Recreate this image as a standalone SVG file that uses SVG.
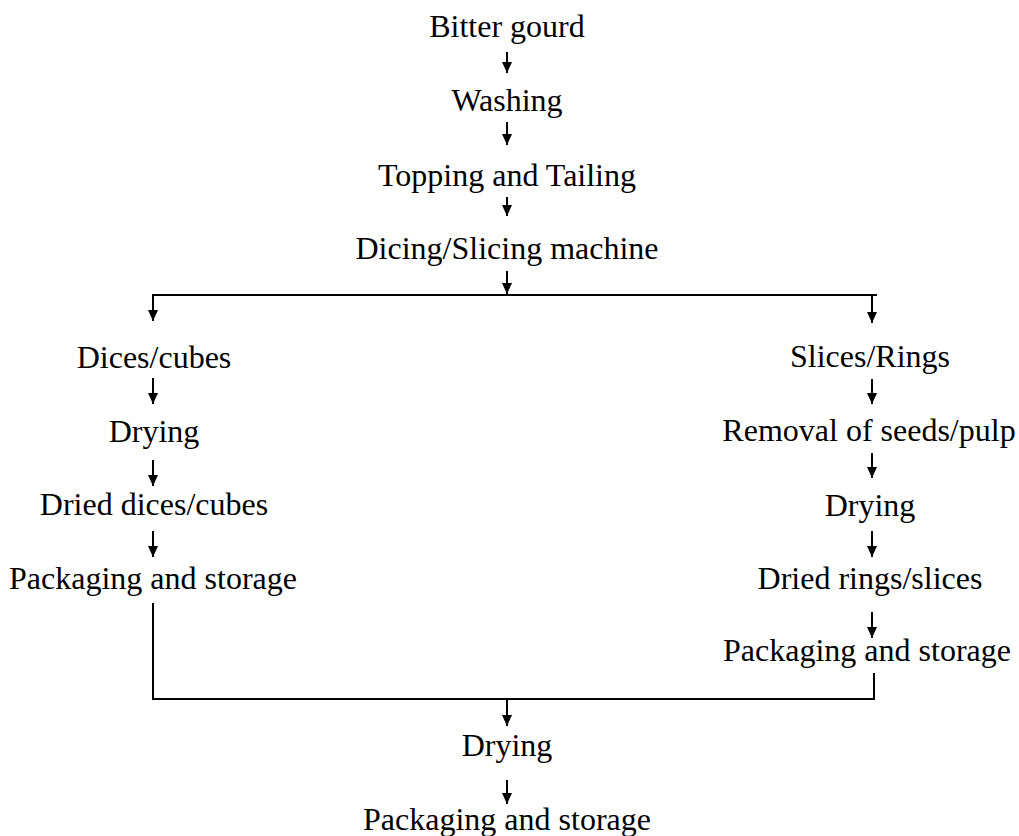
<svg xmlns="http://www.w3.org/2000/svg" width="1019" height="836" viewBox="0 0 1019 836">
<style>
text{font-family:"Liberation Serif","Times New Roman",serif;font-size:32px;fill:#000;text-anchor:middle}
.c{stroke:#000;stroke-width:2;fill:none}
</style>
<defs>
<marker id="a" markerUnits="userSpaceOnUse" markerWidth="11" markerHeight="11" viewBox="0 0 11 11" refX="11" refY="5.5" orient="auto">
<path d="M0,0.5 L11,5.5 L0,10.5 Z" fill="#000"/>
</marker>
</defs>
<rect width="1019" height="836" fill="#fff"/>
<g id="n1"><text x="507" y="37">Bitter gourd</text></g>
<g id="n2"><text x="507" y="111">Washing</text></g>
<g id="n3"><text x="507" y="186">Topping and Tailing</text></g>
<g id="n4"><text x="507" y="259">Dicing/Slicing machine</text></g>
<g id="n5"><text x="154" y="368">Dices/cubes</text></g>
<g id="n6"><text x="154" y="442">Drying</text></g>
<g id="n7"><text x="154" y="515">Dried dices/cubes</text></g>
<g id="n8"><text x="153" y="589">Packaging and storage</text></g>
<g id="n9"><text x="870" y="367">Slices/Rings</text></g>
<g id="n10"><text x="869" y="441">Removal of seeds/pulp</text></g>
<g id="n11"><text x="870" y="516">Drying</text></g>
<g id="n12"><text x="870" y="589">Dried rings/slices</text></g>
<g id="n13"><text x="867" y="661">Packaging and storage</text></g>
<g id="n14"><text x="507" y="756">Drying</text></g>
<g id="n15"><text x="507" y="830">Packaging and storage</text></g>
<g id="connectors" class="c">
<line x1="507" y1="52" x2="507" y2="73" marker-end="url(#a)"/>
<line x1="507" y1="122" x2="507" y2="145" marker-end="url(#a)"/>
<line x1="507" y1="197" x2="507" y2="216" marker-end="url(#a)"/>
<line x1="507" y1="271" x2="507" y2="294" marker-end="url(#a)"/>
<line x1="152" y1="295" x2="877" y2="295"/>
<line x1="153" y1="295" x2="153" y2="321" marker-end="url(#a)"/>
<line x1="872" y1="295" x2="872" y2="323" marker-end="url(#a)"/>
<line x1="153" y1="378" x2="153" y2="404" marker-end="url(#a)"/>
<line x1="153" y1="460" x2="153" y2="486" marker-end="url(#a)"/>
<line x1="153" y1="531" x2="153" y2="557" marker-end="url(#a)"/>
<line x1="872" y1="379" x2="872" y2="404" marker-end="url(#a)"/>
<line x1="872" y1="453" x2="872" y2="478" marker-end="url(#a)"/>
<line x1="872" y1="531" x2="872" y2="557" marker-end="url(#a)"/>
<line x1="872" y1="612" x2="872" y2="638" marker-end="url(#a)"/>
<path d="M153,603 V699 H874 V673"/>
<line x1="507" y1="699" x2="507" y2="726" marker-end="url(#a)"/>
<line x1="507" y1="780" x2="507" y2="804" marker-end="url(#a)"/>
</g>
</svg>
